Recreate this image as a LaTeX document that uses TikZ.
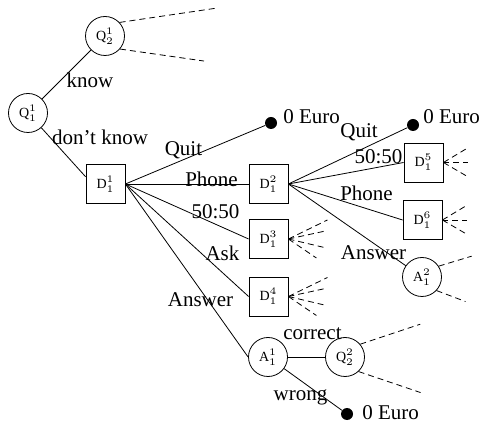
\documentclass[tikz,border=0pt]{standalone}
\usepackage{fontspec}
\setmainfont{Liberation Serif}
\tikzset{
  chance/.style={draw,circle,minimum size=19.5pt,inner sep=0pt,font=\scriptsize},
  decision/.style={draw,rectangle,minimum size=19.5pt,inner sep=0pt,font=\scriptsize},
  payoff/.style={fill,circle,minimum size=6pt,inner sep=0pt},
  lbl/.style={inner sep=0pt,font=\fontsize{10.5}{12}\selectfont},
  cut/.style={dash pattern=on 3pt off 2pt}
}
\begin{document}
\begin{tikzpicture}[x=0.5pt,y=-0.5pt]
\useasboundingbox (0,0) rectangle (481,426);
\node[chance] (q11) at (28,113) {$\mathrm{Q}_1^1$};
\node[chance] (q21) at (105,36) {$\mathrm{Q}_2^1$};
\node[decision] (d11) at (105.5,184) {$\mathrm{D}_1^1$};
\node[payoff] (end1) at (271,123) {};
\node[decision] (d12) at (268.5,184) {$\mathrm{D}_1^2$};
\node[decision] (d13) at (268.5,239) {$\mathrm{D}_1^3$};
\node[decision] (d14) at (268.5,296.5) {$\mathrm{D}_1^4$};
\node[chance] (a11) at (268,357) {$\mathrm{A}_1^1$};
\node[chance] (q22) at (345,357) {$\mathrm{Q}_2^2$};
\node[payoff] (end3) at (347,414) {};
\node[payoff] (end2) at (413,125) {};
\node[decision] (d15) at (423.5,162.5) {$\mathrm{D}_1^5$};
\node[decision] (d16) at (422.5,220) {$\mathrm{D}_1^6$};
\node[chance] (a12) at (422,277) {$\mathrm{A}_1^2$};

\draw (q11)--(q21);
\draw (q11)--(d11.160);
\foreach \n in {end1,d12.west,d13.west,d14.west,a11.west} \draw (d11.east)--(\n);
\foreach \n in {end2,d15.west,d16.west,a12} \draw (d12.east)--(\n);
\draw (a11.east)--(q22.west);
\draw (a11)--(end3);

% open branches
\draw[cut] (q21.43)--++(95,-14); \draw[cut] (q21.-41)--++(84,12);
\draw[cut] (q22.40)--++(60,-20); \draw[cut] (q22.-47)--++(62,21);
\draw[cut] (a12.33)--++(33,-10); \draw[cut] (a12.-43)--++(29,11);
\foreach \d in {d13,d14}
  \foreach \dx/\dy in {39/-19,37/-8,38/9,28/19} \draw[cut] (\d.east)--++(\dx,\dy);
\foreach \d in {d15,d16}
  \foreach \dx/\dy in {25/-15,25/0,24/14} \draw[cut] (\d.east)--++(\dx,\dy);

\node[lbl] (lknow) at (90,80) {know};
\node[lbl] (ldont) at (100,137) {don't know};
\node[lbl] (lquit) at (183.5,150) {Quit};
\node[lbl] (lphone) at (211.5,179) {Phone};
\node[lbl] (lfifty) at (215.5,212) {50:50};
\node[lbl] (lask) at (222.5,253) {Ask};
\node[lbl] (lans) at (200.5,300) {Answer};
\node[lbl] (lquitb) at (359,132) {Quit};
\node[lbl] (lfiftyb) at (378.5,157) {50:50};
\node[lbl] (lphoneb) at (366.5,193) {Phone};
\node[lbl] (lansb) at (373.5,253) {Answer};
\node[lbl] (lcorr) at (312.5,334) {correct};
\node[lbl] (lwrong) at (300.5,397) {wrong};
\node[lbl,anchor=west] (eur1) at (283,117) {0 Euro};
\node[lbl,anchor=west] (eur2) at (423,117) {0 Euro};
\node[lbl,anchor=west] (eur3) at (362,413) {0 Euro};
\end{tikzpicture}
\end{document}
